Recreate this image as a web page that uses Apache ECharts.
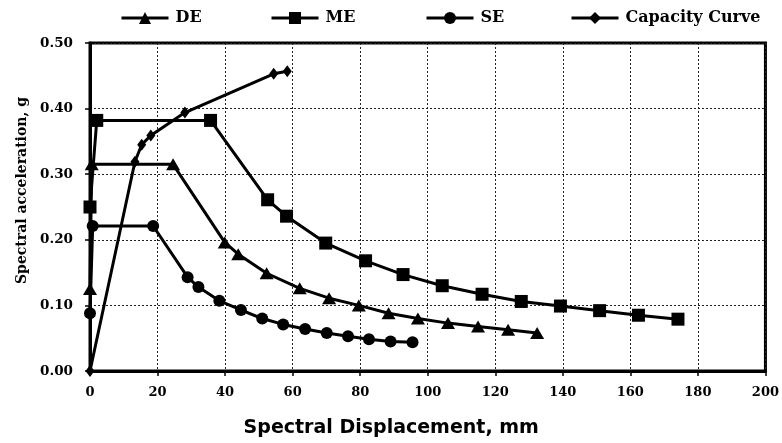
<!DOCTYPE html>
<html>
<head>
<meta charset="utf-8">
<script src="https://cdn.jsdelivr.net/npm/echarts@6/dist/echarts.min.js"></script>
<style>
  html, body { margin: 0; padding: 0; background: #fff; }
  #chart { width: 782px; height: 443px; }
</style>
</head>
<body>
<div id="chart"></div>
<script>
// Demand spectra (ADRS format): [spectral displacement (mm), spectral acceleration (g)]
const deSpectrum = [
  [0, 0.125], [0.5, 0.315], [24.6, 0.315], [39.9, 0.196], [43.9, 0.178],
  [52.3, 0.149], [62.1, 0.126], [70.8, 0.111], [79.6, 0.100], [88.4, 0.088],
  [97.1, 0.080], [106.0, 0.073], [114.9, 0.068], [123.8, 0.063], [132.4, 0.058]
];
const meSpectrum = [
  [0, 0.250], [2.0, 0.382], [35.7, 0.382], [52.6, 0.261], [58.2, 0.236],
  [69.8, 0.195], [81.6, 0.168], [92.7, 0.147], [104.3, 0.130], [116.1, 0.117],
  [127.7, 0.106], [139.3, 0.099], [150.9, 0.092], [162.4, 0.085], [174.1, 0.079]
];
const seSpectrum = [
  [0, 0.088], [0.8, 0.221], [18.7, 0.221], [28.9, 0.143], [32.1, 0.128],
  [38.3, 0.107], [44.7, 0.093], [51.0, 0.080], [57.2, 0.071], [63.7, 0.064],
  [70.1, 0.058], [76.4, 0.053], [82.6, 0.0485], [89.0, 0.045], [95.5, 0.044]
];
// Structure capacity curve
const capacityCurve = [
  [0, 0], [13.3, 0.319], [15.3, 0.345], [18.0, 0.359], [28.1, 0.394],
  [54.4, 0.453], [58.4, 0.457]
];

const seriesNames = ['DE', 'ME', 'SE', 'Capacity Curve'];
// left edge of each legend entry
const legendLefts = [120, 270, 425, 570];

const serif = '"DejaVu Serif", "Liberation Serif", serif';
const sans = '"DejaVu Sans", "Liberation Sans", sans-serif';

function curve(name, data, symbol, size) {
  return {
    name: name,
    type: 'line',
    data: data,
    symbol: symbol,
    symbolSize: size,
    showAllSymbol: true,
    lineStyle: { color: '#000', width: 3 },
    itemStyle: { color: '#000' },
    emphasis: { disabled: true },
    animation: false
  };
}

const legends = seriesNames.map((name, i) => ({
  data: [name],
  left: legendLefts[i],
  top: 10,
  padding: 0,
  itemWidth: 47,
  itemHeight: 15,
  selectedMode: false,
  lineStyle: { width: 3, color: '#000' },
  textStyle: { fontFamily: serif, fontWeight: 'bold', fontSize: 16, color: '#000', padding: [0, 0, 0, 2] }
}));

const chart = echarts.init(document.getElementById('chart'), null, { renderer: 'canvas' });
chart.setOption({
  backgroundColor: '#fff',
  animation: false,
  legend: legends,
  grid: {
    left: 90, right: 16, top: 43, bottom: 60,
    show: true, borderColor: '#000', borderWidth: 3
  },
  xAxis: {
    type: 'value',
    min: 0, max: 200, interval: 20,
    name: 'Spectral Displacement, mm',
    nameLocation: 'middle',
    nameGap: 48,
    nameTextStyle: { fontFamily: sans, fontWeight: 'bold', fontSize: 19, color: '#000', padding: [0, 73, 0, 0] },
    axisLine: { show: true, lineStyle: { color: '#000', width: 3 } },
    axisTick: { show: true, length: 5, lineStyle: { color: '#000', width: 1.5 } },
    axisLabel: { margin: 15, fontFamily: serif, fontWeight: 'bold', fontSize: 13, color: '#000' },
    splitLine: { show: true, lineStyle: { color: '#222', width: 1, type: [2, 2] } }
  },
  yAxis: {
    type: 'value',
    min: 0, max: 0.5, interval: 0.1,
    name: 'Spectral acceleration, g',
    nameLocation: 'middle',
    nameGap: 60,
    nameTextStyle: { fontFamily: serif, fontWeight: 'bold', fontSize: 14, color: '#000', padding: [0, 0, 0, 33] },
    axisLine: { show: true, lineStyle: { color: '#000', width: 3 } },
    axisTick: { show: true, length: 5, lineStyle: { color: '#000', width: 1.5 } },
    axisLabel: {
      margin: 17, fontFamily: serif, fontWeight: 'bold', fontSize: 13.5, color: '#000',
      formatter: v => v.toFixed(2)
    },
    splitLine: { show: true, lineStyle: { color: '#222', width: 1, type: [2, 2] } }
  },
  series: [
    curve('DE', deSpectrum, 'triangle', [14, 12]),
    curve('ME', meSpectrum, 'rect', 13),
    curve('SE', seSpectrum, 'circle', 12),
    curve('Capacity Curve', capacityCurve, 'diamond', [9, 12])
  ]
});
</script>
</body>
</html>
